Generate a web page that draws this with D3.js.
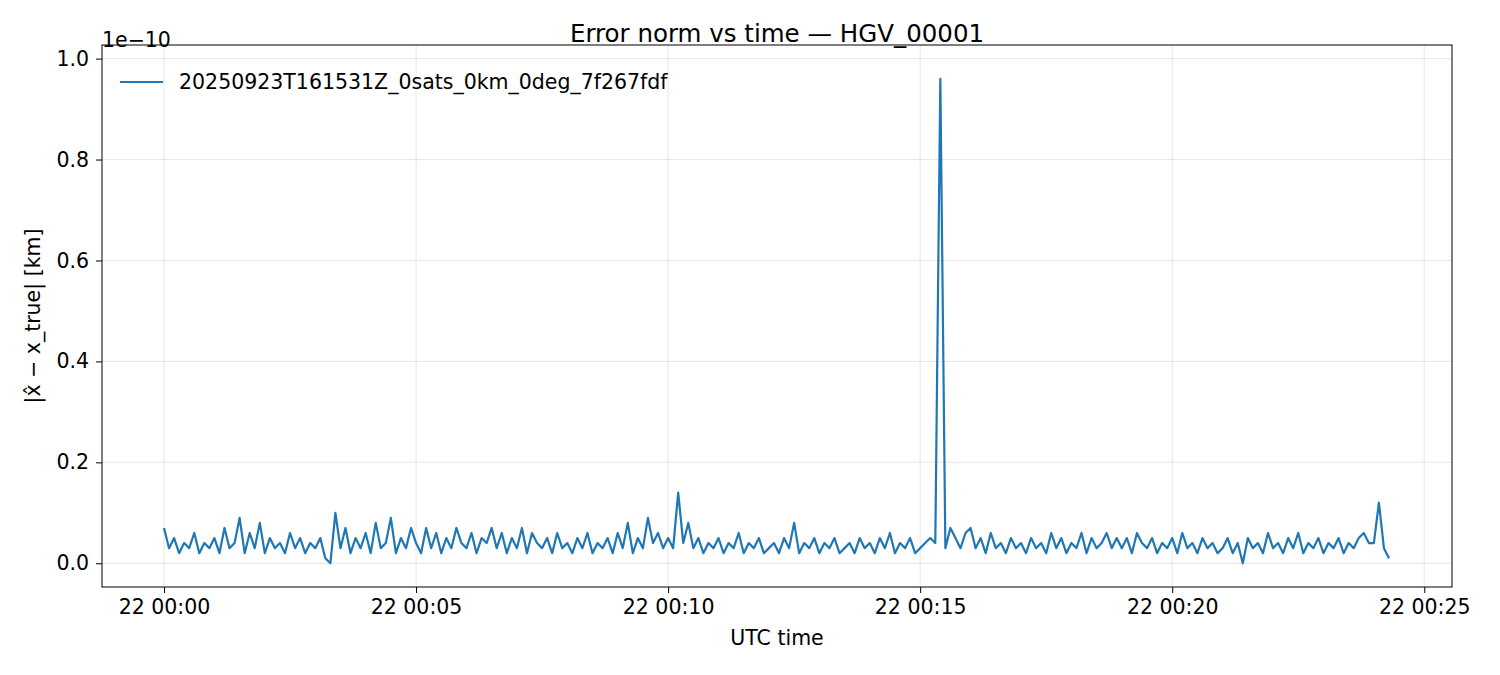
<!DOCTYPE html><html><head><meta charset="utf-8">
<script src="https://cdn.jsdelivr.net/npm/d3@7"></script>
<style>body{margin:0;background:#fff}text{font-family:"DejaVu Sans",sans-serif}</style></head><body>
<svg id="c" width="1500" height="675"></svg>
<script>
const title = "Error norm vs time — HGV_00001";
const seriesName = "20250923T161531Z_0sats_0km_0deg_7f267fdf";
const stepMinutes = 0.1;
// error values in units of 1e-12 km, one every 6 s from 22 00:00
const errValues = [
7,3,5,2,4,3,6,2,4,3, 5,2,7,3,4,9,2,6,3,8, 2,5,3,4,2,6,3,5,2,4, 3,5,1,0,10,3,7,2,5,3,
6,2,8,3,4,9,2,5,3,7, 4,2,7,3,6,2,5,3,7,4, 3,6,2,5,4,7,3,6,2,5, 3,7,2,6,4,3,5,2,6,3,
4,2,5,3,6,2,4,3,5,2, 6,3,8,2,5,3,9,4,6,3, 5,3,14,4,8,3,5,2,4,3, 5,2,4,3,6,2,4,3,5,2,
3,4,2,5,3,8,2,4,3,5, 2,4,3,5,2,3,4,2,5,3, 4,2,5,3,6,2,4,3,5,2, 3,4,5,4,96,3,7,5,3,6,
7,3,5,2,6,3,4,2,5,3, 4,2,5,3,4,2,6,3,5,2, 4,3,6,2,5,3,4,6,3,5, 3,5,2,6,4,3,5,2,4,3,
5,2,6,3,4,2,5,3,4,2, 3,5,2,4,0,5,3,4,2,6, 3,4,2,5,3,6,2,4,3,5, 2,4,3,5,2,4,3,5,6,4,
4,12,3,1];
const yTicks = [0,0.2,0.4,0.6,0.8,1.0];
const xTicksMin = [0,5,10,15,20,25];

const svg = d3.select("#c");
const L=102,R=1452,T=45,B=587;
const x = d3.scaleLinear().domain([-1.23,25.55]).range([L,R]);
const y = d3.scaleLinear().domain([-0.047,1.027]).range([B,T]);
const data = errValues.map((v,i)=>({t:i*stepMinutes, v:v/100}));
const FS = 20.5;

const g = svg.append("g");
g.selectAll(".gx").data(xTicksMin).enter().append("line").attr("x1",d=>x(d)).attr("x2",d=>x(d)).attr("y1",T).attr("y2",B).attr("stroke","#b0b0b0").attr("stroke-opacity",0.3);
g.selectAll(".gy").data(yTicks).enter().append("line").attr("y1",d=>y(d)).attr("y2",d=>y(d)).attr("x1",L).attr("x2",R).attr("stroke","#b0b0b0").attr("stroke-opacity",0.3);

const fmtT = m => "22 00:" + String(m).padStart(2,"0");
svg.append("g").attr("transform",`translate(0,${B})`).call(d3.axisBottom(x).tickValues(xTicksMin).tickFormat(fmtT).tickSizeOuter(0).tickSize(6).tickPadding(6))
 .call(a=>{a.select(".domain").remove();a.selectAll("text").attr("font-size",FS).attr("fill","#000");});
svg.append("g").attr("transform",`translate(${L},0)`).call(d3.axisLeft(y).tickValues(yTicks).tickFormat(d3.format(".1f")).tickSizeOuter(0).tickSize(6).tickPadding(7))
 .call(a=>{a.select(".domain").remove();a.selectAll("text").attr("font-size",FS).attr("fill","#000");});

svg.append("path").datum(data).attr("fill","none").attr("stroke","#1f77b4").attr("stroke-width",2.2).attr("stroke-linejoin","round")
 .attr("d",d3.line().x(d=>x(d.t)).y(d=>y(d.v)));
svg.append("rect").attr("x",L).attr("y",T).attr("width",R-L).attr("height",B-T).attr("fill","none").attr("stroke","#000").attr("stroke-width",1);

svg.append("text").attr("x",(L+R)/2).attr("y",42).attr("text-anchor","middle").attr("font-size",24.5).text(title);
svg.append("text").attr("x",102).attr("y",47).attr("font-size",FS).text("1e−10");
svg.append("text").attr("x",(L+R)/2).attr("y",645).attr("text-anchor","middle").attr("font-size",FS).text("UTC time");
svg.append("text").attr("transform",`translate(40,${(T+B)/2}) rotate(-90)`).attr("text-anchor","middle").attr("font-size",FS).text("|x̂ − x_true| [km]");
svg.append("line").attr("x1",120).attr("x2",163).attr("y1",82).attr("y2",82).attr("stroke","#1f77b4").attr("stroke-width",2.2);
svg.append("text").attr("x",179).attr("y",89).attr("font-size",FS).text(seriesName);
</script></body></html>
